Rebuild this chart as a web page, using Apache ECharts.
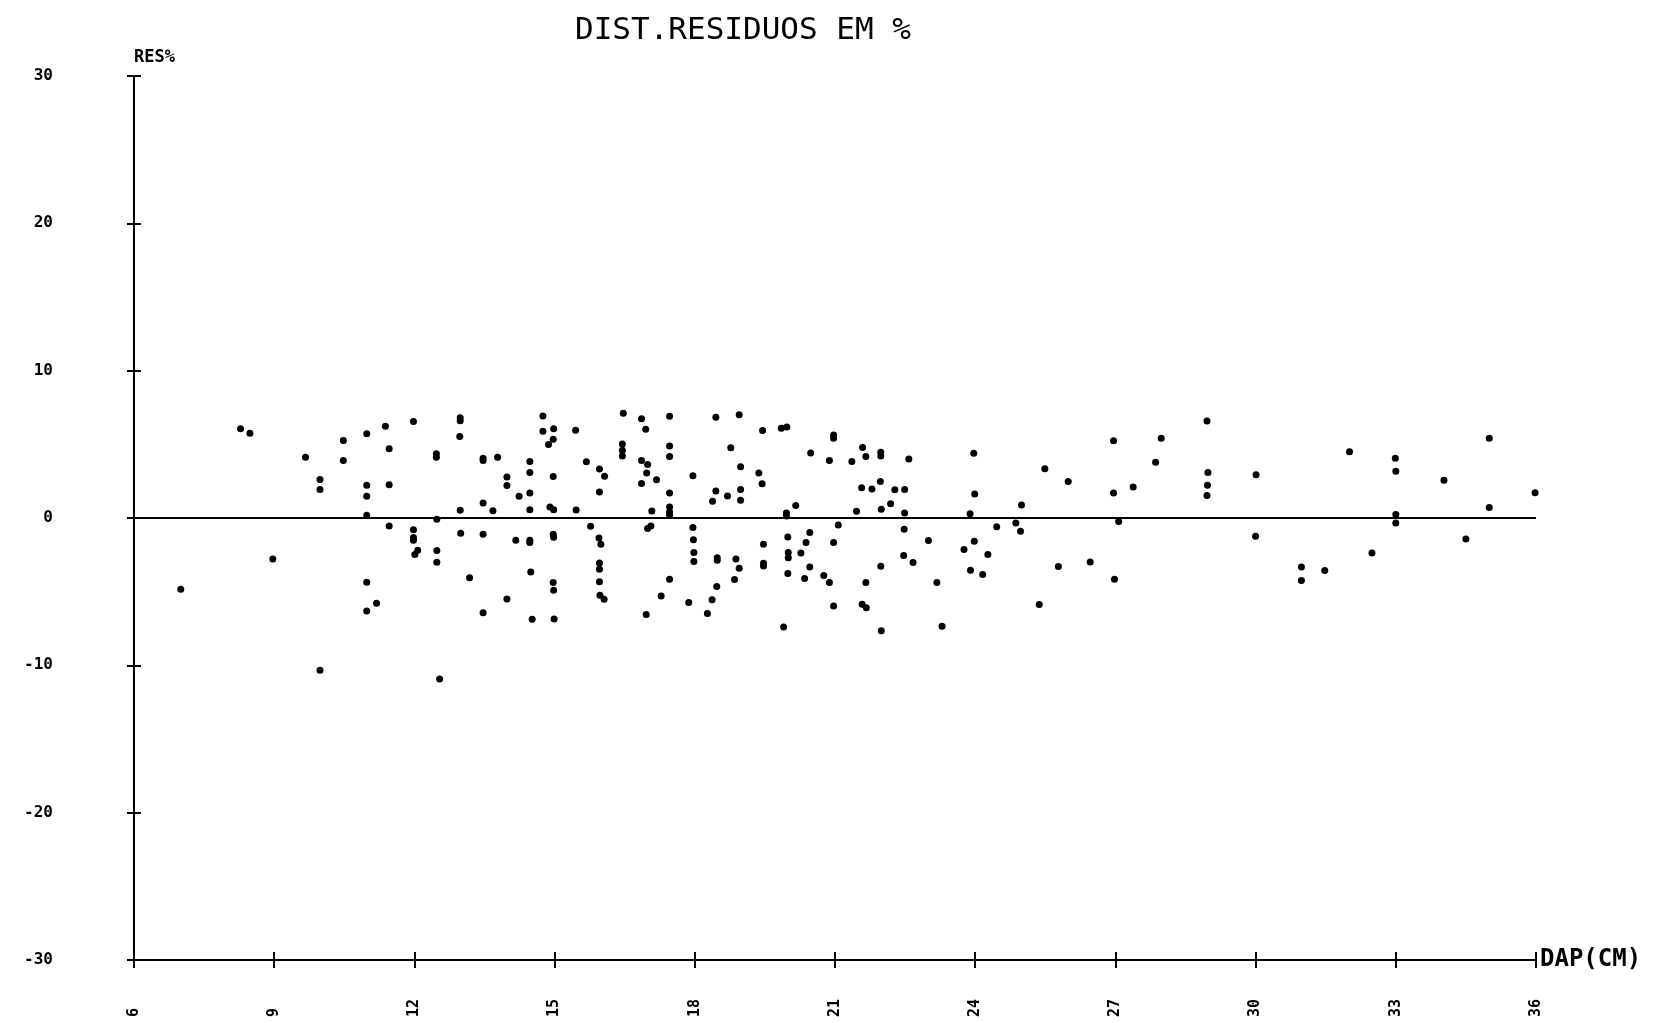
<!DOCTYPE html>
<html>
<head>
<meta charset="utf-8">
<title>DIST.RESIDUOS EM %</title>
<script src="https://cdn.jsdelivr.net/npm/echarts@6/dist/echarts.min.js"></script>
<style>
  html, body { margin: 0; padding: 0; background: #fff; }
  #chart { width: 1653px; height: 1023px; }
</style>
</head>
<body>
<div id="chart"></div>
<script>
// DAP (cm) e residuo (%)
const dap = [
  8.28, 8.48, 9.67, 9.98, 9.98, 10.48, 10.48, 10.98, 10.98, 10.98, 10.98, 11.38, 11.46, 11.46, 11.46,
  8.97, 7.0, 10.98, 11.19, 10.98, 9.98,
  11.98, 11.98, 11.98, 11.98, 12.01, 12.07, 12.47, 12.47, 12.48, 12.48, 12.48, 12.54,
  12.98, 12.98, 12.97, 12.98, 12.99, 13.18, 13.47, 13.47, 13.78, 13.47, 13.68, 13.47, 13.47,
  13.98, 13.98, 13.98, 14.17, 14.24, 14.47, 14.47, 14.47, 14.47, 14.47, 14.47, 14.49, 14.52,
  14.75, 14.75, 14.98, 14.87, 14.97, 14.97, 14.9, 14.98, 14.97, 14.98, 14.97, 14.98, 14.99,
  15.45, 15.46, 15.68, 15.77, 15.96, 16.07, 15.96, 15.95, 15.99, 15.96, 15.96, 15.96, 15.97, 16.06,
  16.47, 16.45, 16.45, 16.45, 16.86, 16.86, 16.86,
  16.95, 16.99, 16.97, 17.18, 17.08, 16.99, 17.06, 16.96, 17.28,
  17.46, 17.46, 17.46, 17.46, 17.46, 17.46, 17.46, 17.46,
  17.96, 17.96, 17.97, 17.98, 17.98, 17.87,
  18.45, 18.38, 18.45, 18.48, 18.48, 18.47, 18.37, 18.27, 18.77, 18.70,
  18.95, 18.98, 18.98, 18.98, 18.88, 18.95, 18.85,
  19.45, 19.37, 19.44, 19.47, 19.47, 19.47, 19.85, 19.97, 19.96, 19.96, 20.16, 19.99, 20.0, 20.0, 19.99, 19.9,
  20.48, 20.46, 20.38, 20.27, 20.46, 20.35, 20.97, 20.97, 20.88, 21.07, 20.97, 20.76, 20.88, 20.97,
  21.36, 21.59, 21.66, 21.57, 21.79, 21.46, 21.98, 21.98, 21.97, 21.99, 21.98, 21.66, 21.58, 21.67, 21.99, 22.19,
  22.28, 22.49, 22.58, 22.49, 22.48, 23.0, 22.47, 22.67, 23.18, 23.29,
  23.97, 23.99, 23.89, 23.98, 23.76, 24.27, 23.9, 24.16, 24.46, 24.87, 24.99, 24.97,
  25.49, 25.99, 25.37, 25.78, 26.46, 26.96, 26.96, 27.07, 26.98, 27.38,
  27.98, 27.86, 28.96, 28.98, 28.97, 28.96, 30.01, 30.0, 30.98, 30.98, 31.48, 32.01, 32.49,
  32.99, 33.0, 33.0, 33.0, 34.03, 34.5, 35.0, 35.0, 35.98
]
const res = [
  6.05, 5.76, 4.13, 2.62, 1.94, 5.26, 3.91, 5.71, 2.23, 1.47, 0.18, 6.23, 4.70, 2.26, -0.54,
  -2.78, -4.83, -4.36, -5.78, -6.32, -10.34,
  6.55, -0.79, -1.33, -1.51, -2.48, -2.19, 4.36, 4.13, -0.09, -2.21, -3.0, -10.93,
  6.8, 6.6, 5.53, 0.52, -1.04, -4.06, 4.06, 3.91, 4.13, 1.02, 0.50, -1.11, -6.43,
  2.78, 2.21, -5.49, -1.51, 1.47, 3.84, 3.09, 1.69, 0.56, -1.51, -1.67, -3.66, -6.88,
  6.93, 5.89, 6.05, 4.99, 5.35, 2.82, 0.74, 0.56, -1.1, -1.3, -4.38, -4.9, -6.86,
  5.96, 0.54, 3.81, -0.56, 3.32, 2.84, 1.76, -1.35, -1.78, -3.05, -3.48, -4.33, -5.24, -5.51,
  7.11, 5.03, 4.6, 4.2, 6.73, 3.91, 2.35,
  6.03, 3.63, 3.05, 2.60, 0.47, -0.72, -0.54, -6.55, -5.3,
  6.91, 4.88, 4.18, 1.69, 0.74, 0.41, 0.18, -4.15,
  2.87, -0.65, -1.47, -2.35, -2.96, -5.73,
  6.84, 1.13, 1.83, -2.69, -2.87, -4.65, -5.55, -6.48, 4.76, 1.49,
  7.0, 3.48, 1.94, 1.20, -2.78, -3.41, -4.18,
  5.94, 3.05, 2.33, -1.78, -3.07, -3.25, 6.09, 6.18, 0.34, 0.14, 0.84, -1.29, -2.35, -2.69, -3.77, -7.4,
  4.42, -0.99, -1.67, -2.37, -3.32, -4.11, 5.64, 5.42, 3.91, -0.47, -1.67, -3.91, -4.38, -5.98,
  3.84, 4.79, 4.18, 2.05, 1.96, 0.45, 4.47, 4.20, 2.48, 0.59, -3.27, -4.38, -5.85, -6.1, -7.65, 0.97,
  1.92, 1.94, 4.0, 0.34, -0.77, -1.53, -2.55, -3.02, -4.38, -7.34,
  4.40, 1.63, 0.29, -1.58, -2.14, -2.48, -3.54, -3.84, -0.59, -0.34, 0.88, -0.90,
  3.34, 2.48, -5.87, -3.30, -2.98, 5.24, 1.69, -0.23, -4.15, 2.10,
  5.42, 3.79, 6.59, 3.09, 2.23, 1.53, 2.93, -1.24, -3.32, -4.24, -3.57, 4.49, -2.37,
  4.06, 3.18, 0.23, -0.34, 2.57, -1.42, 5.42, 0.72, 1.72
]

const fontMono = 'DejaVu Sans Mono'
const chart = echarts.init(document.getElementById('chart'))

const tickStyle = { color: '#000', width: 2 }

const option = {
  backgroundColor: '#fff',
  animation: false,
  title: {
    text: 'DIST.RESIDUOS EM %',
    left: 570,
    top: 10,
    textStyle: { fontFamily: fontMono, fontSize: 31, fontWeight: 'normal', color: '#000' }
  },
  grid: { left: 134, right: 117, top: 76, bottom: 63 },
  xAxis: [
    {
      type: 'value',
      min: 6,
      max: 36,
      interval: 3,
      position: 'bottom',
      name: 'DAP(CM)',
      nameLocation: 'end',
      nameGap: 4,
      nameTextStyle: { fontFamily: fontMono, fontSize: 24, fontWeight: 'bold', color: '#000' },
      axisLine: { onZero: false, lineStyle: tickStyle },
      axisTick: { length: 8, lineStyle: tickStyle },
      axisLabel: {
        rotate: 90,
        align: 'left',
        margin: 57,
        fontFamily: fontMono,
        fontSize: 15,
        fontWeight: 'bold',
        color: '#000'
      },
      splitLine: { show: false }
    },
    {
      // same scale again, only for the inner half of the cross ticks
      type: 'value',
      min: 6,
      max: 36,
      interval: 3,
      position: 'bottom',
      axisLine: { show: false, onZero: false },
      axisTick: { inside: true, length: 8, lineStyle: tickStyle },
      axisLabel: { show: false },
      splitLine: { show: false }
    }
  ],
  yAxis: [
    {
      type: 'value',
      min: -30,
      max: 30,
      interval: 10,
      position: 'left',
      name: 'RES%',
      nameLocation: 'end',
      nameGap: 10,
      nameTextStyle: { align: 'left', fontFamily: fontMono, fontSize: 17, fontWeight: 'bold', color: '#000' },
      axisLine: { onZero: false, lineStyle: tickStyle },
      axisTick: { length: 7, lineStyle: tickStyle },
      axisLabel: { margin: 81, fontFamily: fontMono, fontSize: 16, fontWeight: 'bold', color: '#000' },
      splitLine: { show: false }
    },
    {
      type: 'value',
      min: -30,
      max: 30,
      interval: 10,
      position: 'left',
      axisLine: { show: false, onZero: false },
      axisTick: { inside: true, length: 7, lineStyle: tickStyle },
      axisLabel: { show: false },
      splitLine: { show: false }
    }
  ],
  series: [
    {
      type: 'scatter',
      xAxisIndex: 0,
      yAxisIndex: 0,
      symbolSize: 7,
      itemStyle: { color: '#000', opacity: 1 },
      data: dap.map((d, i) => [d, res[i]]),
      markLine: {
        silent: true,
        symbol: ['none', 'none'],
        label: { show: false },
        lineStyle: { color: '#000', width: 2, type: 'solid' },
        data: [{ yAxis: 0 }]
      }
    }
  ]
}

chart.setOption(option)
window.addEventListener('resize', () => chart.resize())
</script>
</body>
</html>
